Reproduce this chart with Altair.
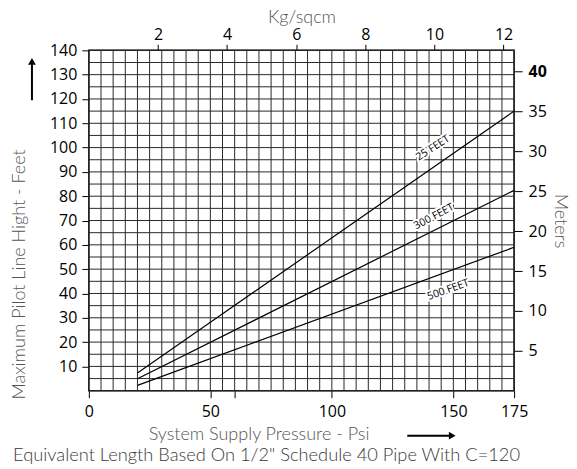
import altair as alt
import pandas as pd

# ---- data ----
series = ["25 FEET", "300 FEET", "500 FEET"]
psi_start = [20, 20, 20]
psi_end = [175, 175, 175]
ft_start = [7.3, 4.9, 2.2]
ft_end = [115.0, 82.4, 59.0]

label_psi = [141.6, 142.0, 147.9]
label_ft = [99.8, 71.6, 41.5]
label_angle = [327, 332, 340]

grid_psi = list(range(0, 180, 5))
grid_ft = list(range(0, 145, 5))

psi_ticks = [0, 50, 60, 100, 150, 175]
ft_ticks = [10, 20, 30, 40, 50, 60, 70, 80, 90, 100, 110, 120, 130, 140]
kg_ticks = [2, 4, 6, 8, 10, 12]
m_ticks = [5, 10, 15, 20, 25, 30, 35, 40]

PSI_PER_KG = 14.223
FT_PER_M = 3.2808
W, H = 426, 341
TITLE_GRAY = "#555555"

rows = []
for s, p0, p1, f0, f1 in zip(series, psi_start, psi_end, ft_start, ft_end):
    rows.append({"series": s, "psi": p0, "ft": f0})
    rows.append({"series": s, "psi": p1, "ft": f1})
lines_df = pd.DataFrame(rows)
labels_df = pd.DataFrame({"series": series, "psi": label_psi, "ft": label_ft, "ang": label_angle})
gx_df = pd.DataFrame({"psi": grid_psi})
gy_df = pd.DataFrame({"ft": grid_ft})
kg_df = pd.DataFrame({"kg": kg_ticks})
m_df = pd.DataFrame({"m": m_ticks})
one = pd.DataFrame({"d": [0]})

xs = alt.Scale(domain=[0, 175], nice=False, zero=False)
ys = alt.Scale(domain=[0, 140], nice=False, zero=False)

x_axis = alt.Axis(
    values=psi_ticks, labelExpr="datum.value == 60 ? '' : datum.label",
    tickSize=7, labelPadding=6, grid=False, domain=False, labelFlush=False,
    title="System Supply Pressure - Psi", titleX=170, titleY=35)
y_axis = alt.Axis(
    values=ft_ticks, tickSize=7, labelPadding=5, grid=False, domain=False, labelFlush=False,
    title="Maximum Pilot Line Hight - Feet", titleX=-60, titleY=224)

X = alt.X("psi:Q", scale=xs, axis=x_axis)
Y = alt.Y("ft:Q", scale=ys, axis=y_axis)

grid_v = alt.Chart(gx_df).mark_rule(color="#2a2a2a", strokeWidth=1).encode(x=X)
grid_h = alt.Chart(gy_df).mark_rule(color="#2a2a2a", strokeWidth=1).encode(y=Y)

lines = alt.Chart(lines_df).mark_line(color="black", strokeWidth=1.2).encode(
    x=X, y=Y, detail="series:N")

halo = alt.Chart(labels_df).mark_text(
    fontSize=10.5, font="Open Sans", stroke="white", strokeWidth=4, fill="white"
).encode(x=X, y=Y, text="series:N", angle=alt.Angle("ang:Q", scale=None))
lbl = alt.Chart(labels_df).mark_text(fontSize=10.5, font="Open Sans", color="black").encode(
    x=X, y=Y, text="series:N", angle=alt.Angle("ang:Q", scale=None))

# decorations: arrows and footnote
up_shaft = alt.Chart(one).mark_rule(color="black", strokeWidth=2).encode(
    x=alt.value(-57), y=alt.value(14), y2=alt.value(50))
up_head = alt.Chart(one).mark_point(shape="triangle-up", filled=True, color="black", size=60, opacity=1).encode(
    x=alt.value(-57), y=alt.value(11))
r_shaft = alt.Chart(one).mark_rule(color="black", strokeWidth=2).encode(
    x=alt.value(319), x2=alt.value(362), y=alt.value(386))
r_head = alt.Chart(one).mark_point(shape="triangle-right", filled=True, color="black", size=60, opacity=1).encode(
    x=alt.value(364), y=alt.value(386))
foot = alt.Chart(one).mark_text(
    text='Equivalent Length Based On 1/2" Schedule 40 Pipe With C=120',
    font="Lato", fontSize=18.3, fontWeight=300, color="#3a3a3a", align="center", baseline="middle",
).encode(x=alt.value(178), y=alt.value(406))

inner = alt.layer(grid_v, grid_h, lines, halo, lbl, up_shaft, up_head, r_shaft, r_head, foot)

top = alt.Chart(kg_df).mark_point(opacity=0).encode(
    x=alt.X("kg:Q", scale=alt.Scale(domain=[0, 175 / PSI_PER_KG], nice=False, zero=False),
            axis=alt.Axis(orient="top", values=kg_ticks, tickSize=6, labelPadding=2, labelFlush=False,
                          grid=False, domain=False, title="Kg/sqcm", titlePadding=0))
)
right = alt.Chart(m_df).mark_point(opacity=0).encode(
    y=alt.Y("m:Q", scale=alt.Scale(domain=[0, 140 / FT_PER_M], nice=False, zero=False),
            axis=alt.Axis(orient="right", values=m_ticks, tickSize=8, labelPadding=6, labelFlush=False,
                          grid=False, domain=False, title="Meters", titlePadding=4,
                          labelFontWeight={"condition": {"test": "datum.value == 40", "value": "bold"},
                                           "value": "normal"}))
)

chart = alt.layer(inner, top, right).resolve_scale(
    x="independent", y="independent"
).properties(
    width=W, height=H, padding={"left": 3, "top": 0, "right": 0, "bottom": 0}
).configure_view(
    stroke="black", strokeWidth=1.5
).configure_axis(
    labelFont="Open Sans", labelFontSize=16, labelColor="black",
    titleFont="Lato", titleFontSize=18, titleFontWeight=300, titleColor=TITLE_GRAY,
    tickColor="black", tickWidth=1,
)

chart.save("out.html", embed_options={"renderer": "svg", "actions": False})
